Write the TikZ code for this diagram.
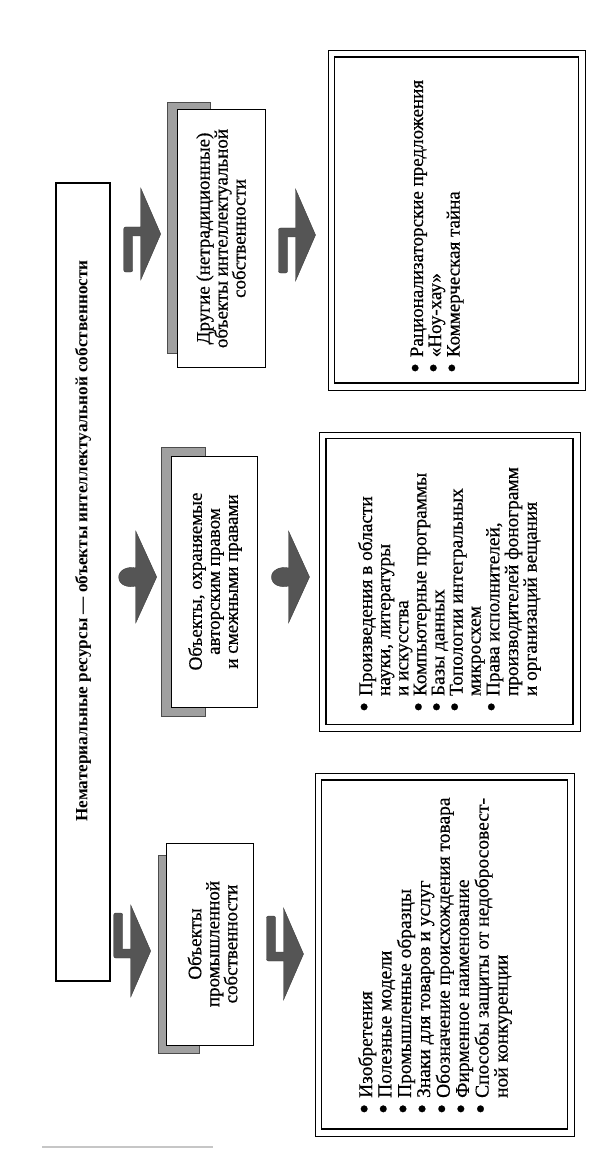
\documentclass[tikz,border=0pt]{standalone}
\usepackage{fontspec}
\setmainfont{Liberation Serif}[UprightFeatures={FakeBold=0.6}]
\usepackage{graphicx}
\usepackage{tikz}
\usetikzlibrary{positioning,calc}

\definecolor{arrowgray}{RGB}{85,85,85}
\definecolor{shadowgray}{RGB}{160,160,160}

% big round bullet as in the print
\newcommand{\bdot}{\raisebox{-0.07em}{\scalebox{1.45}{\textbullet}}}

\tikzset{
  titlebox/.style={draw, line width=1.4pt, fill=white, inner sep=0pt},
  objbox/.style={draw, line width=1pt, fill=white, inner sep=0pt},
  objshadow/.style={draw=black!70, line width=0.6pt, fill=shadowgray},
  outerframe/.style={draw, line width=0.8pt, inner sep=0pt},
  innerframe/.style={draw, line width=1.8pt, inner sep=0pt},
  vtext/.style={rotate=90, inner sep=0pt, align=center, font=\fontsize{19}{18}\selectfont},
  vlist/.style={rotate=90, inner sep=0pt, anchor=north west},
  blockarrow/.style={fill=arrowgray, draw=arrowgray!70!black, line width=0.4pt},
  pics/bentarrow/.style={code={
    \path[blockarrow] (0,-46) -- (20,0) -- (0,46) -- (0,7)
      [rounded corners=2pt] -- (-17,7) -- (-17,-38) -- (-8,-38) [sharp corners] -- (-8,-2) -- (0,-2) -- cycle;
  }},
  pics/stemarrow/.style={code={
    \path[blockarrow] (0,-46) -- (21,0) -- (0,46) -- (0,9)
      .. controls (-8,11) and (-17,8) .. (-17,0)
      .. controls (-17,-7) and (-8,-11) .. (0,-9) -- cycle;
  }}
}

\begin{document}
\begin{tikzpicture}[x=1pt,y=-1pt]
\useasboundingbox (0,0) rectangle (611,1150);

% top block
\node[titlebox, minimum width=54pt, minimum height=798pt] (title) at (83,582) {};
\node[rotate=90, inner sep=0pt, font=\fontsize{17.2}{18}\selectfont\bfseries] (titletext) at (83,541)
  {Нематериальные ресурсы — объекты интеллектуальной собственности};

% shadows
\path[objshadow] (158,855) rectangle (199,1053);
\path[objshadow] (161,447) rectangle (205,716);
\path[objshadow] (167,102) rectangle (210,353);

% middle row
\node[objbox, minimum width=87pt, minimum height=202pt] (prom) at (209.5,944) {};
\node[vtext] at ([xshift=3pt]prom) {Объекты\\промышленной\\собственности};
\node[objbox, minimum width=86pt, minimum height=251pt] (avt) at (214,581.5) {};
\node[vtext] at ([xshift=1pt]avt) {Объекты, охраняемые\\авторским правом\\и смежными правами};
\node[objbox, minimum width=88pt, minimum height=257pt] (dr) at (221,238.5) {};
\node[vtext] at (dr) {Другие (нетрадиционные)\\объекты интеллектуальной\\собственности};

% lists
\node[outerframe, minimum width=259pt, minimum height=363pt] (listA) at (444.5,954.5) {};
\node[innerframe, minimum width=246pt, minimum height=349pt] at (listA) {};
\node[outerframe, minimum width=261pt, minimum height=299pt] (listB) at (449.5,581.5) {};
\node[innerframe, minimum width=247pt, minimum height=286pt] at (listB) {};
\node[outerframe, minimum width=257pt, minimum height=340pt] (listC) at (456.5,220) {};
\node[innerframe, minimum width=244pt, minimum height=326pt] at (listC) {};

\node[vlist, font=\fontsize{19.5}{19.1}\selectfont] (textA) at (358,1114) {%
  \begin{tabular}{@{}c@{\hspace{6pt}}l@{}}
  \bdot & Изобретения\\
  \bdot & Полезные модели\\
  \bdot & Промышленные образцы\\
  \bdot & Знаки для товаров и услуг\\
  \bdot & Обозначение происхождения товара\\
  \bdot & Фирменное наименование\\
  \bdot & Способы защиты от недобросовест-\\
        & ной конкуренции
  \end{tabular}};
\node[vlist, font=\fontsize{19.3}{18.1}\selectfont] (textB) at (358,712) {%
  \begin{tabular}{@{}c@{\hspace{6pt}}l@{}}
  \bdot & Произведения в области\\
        & науки, литературы\\
        & и искусства\\
  \bdot & Компьютерные программы\\
  \bdot & Базы данных\\
  \bdot & Топологии интегральных\\
        & микросхем\\
  \bdot & Права исполнителей,\\
        & производителей фонограмм\\
        & и организаций вещания
  \end{tabular}};
\node[vlist, font=\fontsize{19}{18.2}\selectfont] (textC) at (410,373) {%
  \begin{tabular}{@{}c@{\hspace{6pt}}l@{}}
  \bdot & Рационализаторские предложения\\
  \bdot & «Ноу-хау»\\
  \bdot & Коммерческая тайна
  \end{tabular}};

% block arrows
\pic at ($(title.east |- prom.center)+(20,7)$) {bentarrow};
\pic at ($(prom.east)+(30,10)$) {bentarrow};
\pic at ($(title.east |- avt.center)+(25,-4.5)$) {stemarrow};
\pic at ($(avt.east)+(31,-4.5)$) {stemarrow};
\pic[yscale=-1] at ($(title.east |- dr.center)+(30,-4.5)$) {bentarrow};
\pic[yscale=-1] at ($(dr.east)+(30,-3.5)$) {bentarrow};

% scan edge
\draw[gray!45, line width=2pt] (42,1147) -- (213,1147);
\end{tikzpicture}
\end{document}
